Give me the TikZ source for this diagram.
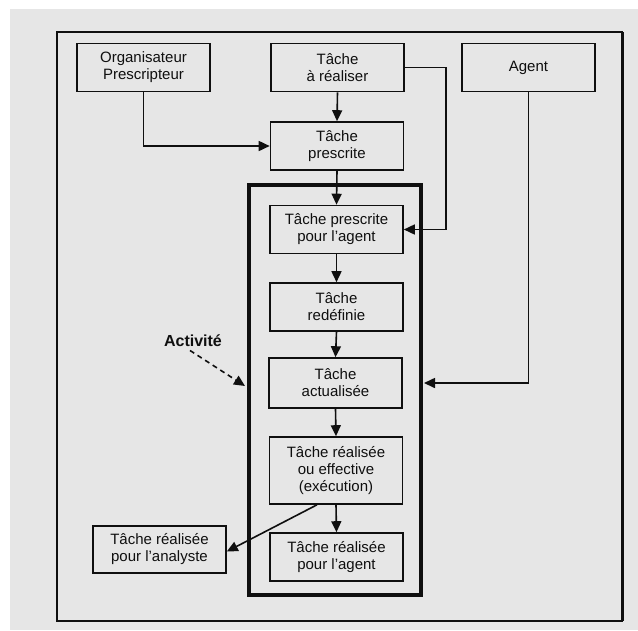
\documentclass[tikz,border=0pt]{standalone}
\usepackage{fontspec}
\setmainfont{Liberation Sans}
\usetikzlibrary{arrows.meta}
\definecolor{bg}{RGB}{230,230,230}
\definecolor{ink}{RGB}{15,15,15}
\tikzset{
  box/.style={draw=ink, line width=1.6pt, minimum width=133pt, minimum height=48pt,
    inner sep=0pt, align=center, text=ink, font=\fontsize{15}{17}\selectfont},
  arr/.style={draw=ink, line width=1.6pt, -{Triangle[length=11pt,width=10pt]}},
}
\begin{document}
\begin{tikzpicture}[x=1pt,y=-1pt]
\useasboundingbox (0,0) rectangle (638,630);
\fill[white] (0,0) rectangle (638,630);
\fill[bg] (10,9) rectangle (638,630);
% outer frame
\draw[ink, line width=2pt] (57,32) rectangle (622,621);
\draw[ink, line width=3pt] (622,32) -- (622,621);
% activity box
\node[draw=ink, line width=4pt, minimum width=172pt, minimum height=410pt, inner sep=0pt] (actbox) at (335,390) {};
% nodes
\node[box] (org) at (143.5,67.5) {Organisateur\\Prescripteur};
\node[box] (ar) at (337.5,67.5) {Tâche\\à réaliser};
\node[box] (agent) at (528.5,67.5) {Agent};
\node[box] (presc) at (337,146) {Tâche\\prescrite};
\node[box] (pa) at (336.5,229.5) {Tâche prescrite\\pour l'agent};
\node[box] (red) at (336.5,307) {Tâche\\redéfinie};
\node[box, minimum height=50pt] (act) at (335.5,383) {Tâche\\actualisée};
\node[box, minimum height=67pt] (real) at (336,470.5) {Tâche réalisée\\ou effective\\(exécution)};
\node[box] (ragent) at (336.5,557) {Tâche réalisée\\pour l'agent};
\node[box, minimum height=47pt] (analyst) at (159.5,549.5) {Tâche réalisée\\pour l'analyste};
\node[text=ink, font=\fontsize{16}{18}\selectfont\bfseries] (actlabel) at (193,341) {Activité};
\coordinate (atip) at (245,386);
% connectors
\draw[arr] (org.south) |- (presc.west);
\draw[arr] (ar.south) -- (presc.north);
\draw[arr] (ar.east) -- ++(41,0) |- (pa.east);
\draw[arr] (presc.south) -- (pa.north);
\draw[arr] (agent.south) |- ([xshift=1pt]actbox.east |- act.east);
\draw[arr] (pa.south) -- (red.north);
\draw[arr] (red.south) -- (act.north);
\draw[arr] (act.south) -- (real.north);
\draw[arr] (real.south) -- (ragent.north);
\draw[arr] ([xshift=-19pt]real.south) -- ([yshift=-2pt]analyst.east);
\draw[arr, dash pattern=on 5pt off 4pt] ([xshift=-3pt]actlabel.south) -- (atip);
\end{tikzpicture}
\end{document}
